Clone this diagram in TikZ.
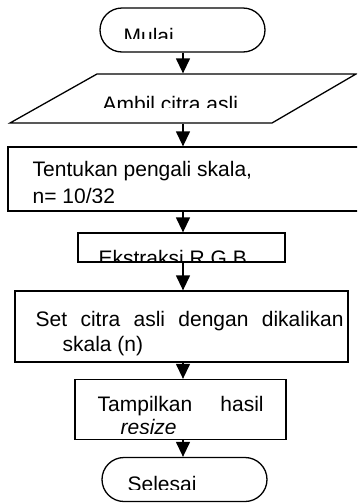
\documentclass[tikz,border=0pt]{standalone}
\usepackage{fontspec}
\setmainfont{Liberation Sans}
\usetikzlibrary{arrows.meta}
\begin{document}
\begin{tikzpicture}[x=1pt,y=-1pt,
  line width=1.3pt,
  arr/.style={-{Triangle[length=15pt,width=14pt]}},
  box/.style={draw, rectangle, inner sep=0pt},
  term/.style={draw, rectangle, rounded corners=22pt, inner sep=0pt},
  txt/.style={anchor=base west, inner sep=0pt, font=\fontsize{21}{24}\selectfont}]
\useasboundingbox (0,0) rectangle (357,504);
\clip (0,0) rectangle (357,504);

% shapes
\node[term, minimum width=165pt, minimum height=44pt] (mulai) at (182.5,30) {};
\node[inner sep=0pt, minimum width=170pt, minimum height=49pt] (ambil) at (183,98.5) {};
\draw (10,123) -- (97,74) -- (356,74) -- (272,123) -- cycle;
\node[box, minimum width=364pt, minimum height=64pt] (tentukan) at (190,179) {};
\node[box, minimum width=207pt, minimum height=29pt] (ekstraksi) at (181.5,247.5) {};
\node[box, minimum width=333pt, minimum height=71pt] (set) at (181.5,326.5) {};
\node[box, minimum width=211pt, minimum height=60pt] (tampil) at (180.5,409.5) {};
\node[term, minimum width=165pt, minimum height=44pt] (selesai) at (184.5,479.5) {};

% connectors
\draw[arr] (mulai.south -| ambil.south) -- (ambil.north);
\draw[arr] (ambil.south) -- (ambil.south |- tentukan.north);
\draw[arr] (ambil.south |- tentukan.south) -- (ambil.south |- ekstraksi.north);
\draw[arr] (ambil.south |- ekstraksi.south) -- (ambil.south |- set.north);
\draw[arr] (ambil.south |- set.south) -- (ambil.south |- tampil.north);
\draw[arr] (ambil.south |- tampil.south) -- (ambil.south |- selesai.north);

% texts (clipped as in the reference)
\begin{scope}
  \clip (0,0) rectangle (357,38.5);
  \node[txt] (tmulai) at (123,43.3) {Mulai};
\end{scope}
\begin{scope}
  \clip (0,80) rectangle (357,107.3);
  \node[txt] (tambil) at (102,111.7) {Ambil citra asli};
\end{scope}
\node[txt] (ttentukan) at (32,176.7) {Tentukan pengali skala,};
\begin{scope}
  \clip (0,180) rectangle (357,202.5);
  \node[txt] (tn) at (32,203.5) {n= 10/32};
\end{scope}
\begin{scope}
  \clip (0,234) rectangle (357,261);
  \node[txt] (tekstraksi) at (98,265) {Ekstraksi R G B};
\end{scope}
\node[txt] (tset) at (35,326.5) {\makebox[308pt][s]{Set citra asli dengan dikalikan}};
\node[txt] (tskala) at (62,351.5) {skala (n)};
\node[txt] (ttampil) at (97,411.5) {\makebox[166pt][s]{Tampilkan hasil}};
\begin{scope}
  \clip (0,415) rectangle (357,433.3);
  \node[txt] (tresize) at (120,434) {\textit{resize}};
\end{scope}
\begin{scope}
  \clip (0,460) rectangle (357,489.3);
  \node[txt] (tselesai) at (127,491.7) {Selesai};
\end{scope}
\end{tikzpicture}
\end{document}
